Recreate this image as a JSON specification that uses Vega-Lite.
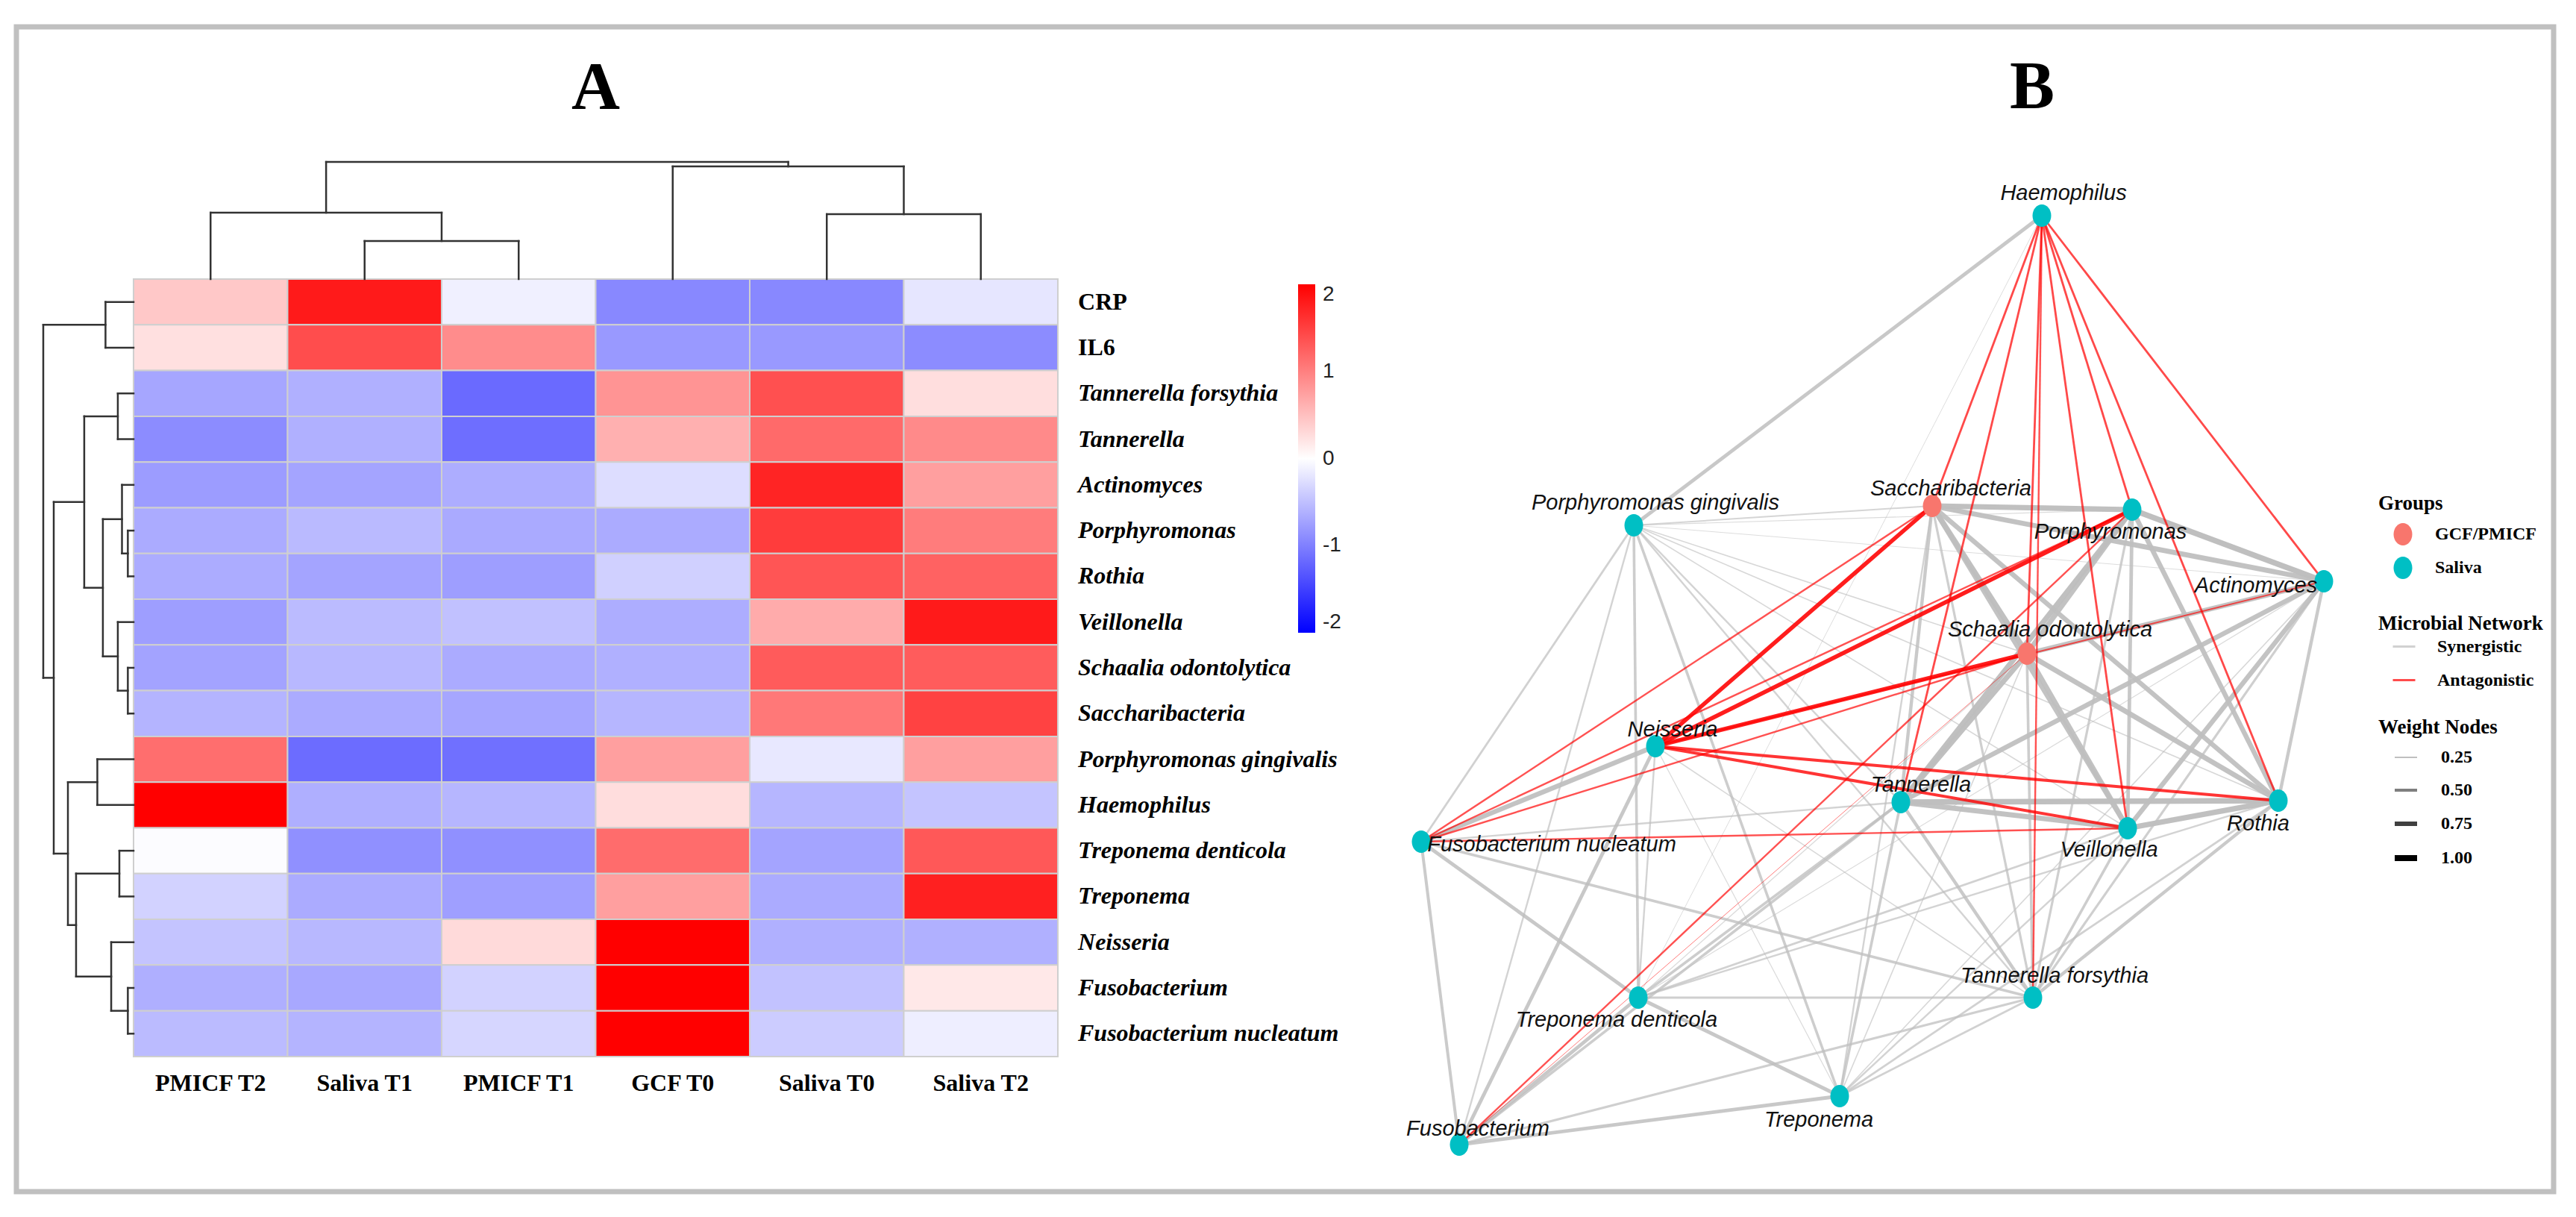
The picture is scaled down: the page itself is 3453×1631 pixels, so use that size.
{
  "$schema": "https://vega.github.io/schema/vega-lite/v6.json",
  "width": 3453,
  "height": 1631,
  "autosize": {"type": "fit", "contains": "padding"},
  "padding": {"left": 22, "top": 36, "right": 30, "bottom": 34},
  "background": "white",
  "config": {
    "view": {"stroke": "#c0c0c0", "strokeWidth": 7},
    "legend": {"labelLimit": 600, "titleLimit": 600}
  },
  "datasets": {
    "samples": [
      {"sample": "PMICF T2", "pos": 1},
      {"sample": "Saliva T1", "pos": 2},
      {"sample": "PMICF T1", "pos": 3},
      {"sample": "GCF T0", "pos": 4},
      {"sample": "Saliva T0", "pos": 5},
      {"sample": "Saliva T2", "pos": 6}
    ],
    "taxa": [
      {"taxon": "CRP", "pos": 1, "kind": "marker"},
      {"taxon": "IL6", "pos": 2, "kind": "marker"},
      {"taxon": "Tannerella forsythia", "pos": 3, "kind": "taxon"},
      {"taxon": "Tannerella", "pos": 4, "kind": "taxon"},
      {"taxon": "Actinomyces", "pos": 5, "kind": "taxon"},
      {"taxon": "Porphyromonas", "pos": 6, "kind": "taxon"},
      {"taxon": "Rothia", "pos": 7, "kind": "taxon"},
      {"taxon": "Veillonella", "pos": 8, "kind": "taxon"},
      {"taxon": "Schaalia odontolytica", "pos": 9, "kind": "taxon"},
      {"taxon": "Saccharibacteria", "pos": 10, "kind": "taxon"},
      {"taxon": "Porphyromonas gingivalis", "pos": 11, "kind": "taxon"},
      {"taxon": "Haemophilus", "pos": 12, "kind": "taxon"},
      {"taxon": "Treponema denticola", "pos": 13, "kind": "taxon"},
      {"taxon": "Treponema", "pos": 14, "kind": "taxon"},
      {"taxon": "Neisseria", "pos": 15, "kind": "taxon"},
      {"taxon": "Fusobacterium", "pos": 16, "kind": "taxon"},
      {"taxon": "Fusobacterium nucleatum", "pos": 17, "kind": "taxon"}
    ],
    "heat": [
      {"taxon": "CRP", "sample": "PMICF T2", "z": 0.43}, {"taxon": "CRP", "sample": "Saliva T1", "z": 1.8}, {"taxon": "CRP", "sample": "PMICF T1", "z": -0.12}, {"taxon": "CRP", "sample": "GCF T0", "z": -0.93}, {"taxon": "CRP", "sample": "Saliva T0", "z": -0.93}, {"taxon": "CRP", "sample": "Saliva T2", "z": -0.2},
      {"taxon": "IL6", "sample": "PMICF T2", "z": 0.24}, {"taxon": "IL6", "sample": "Saliva T1", "z": 1.4}, {"taxon": "IL6", "sample": "PMICF T1", "z": 0.9}, {"taxon": "IL6", "sample": "GCF T0", "z": -0.8}, {"taxon": "IL6", "sample": "Saliva T0", "z": -0.8}, {"taxon": "IL6", "sample": "Saliva T2", "z": -0.9},
      {"taxon": "Tannerella forsythia", "sample": "PMICF T2", "z": -0.7}, {"taxon": "Tannerella forsythia", "sample": "Saliva T1", "z": -0.62}, {"taxon": "Tannerella forsythia", "sample": "PMICF T1", "z": -1.17}, {"taxon": "Tannerella forsythia", "sample": "GCF T0", "z": 0.84}, {"taxon": "Tannerella forsythia", "sample": "Saliva T0", "z": 1.37}, {"taxon": "Tannerella forsythia", "sample": "Saliva T2", "z": 0.26},
      {"taxon": "Tannerella", "sample": "PMICF T2", "z": -0.9}, {"taxon": "Tannerella", "sample": "Saliva T1", "z": -0.62}, {"taxon": "Tannerella", "sample": "PMICF T1", "z": -1.14}, {"taxon": "Tannerella", "sample": "GCF T0", "z": 0.62}, {"taxon": "Tannerella", "sample": "Saliva T0", "z": 1.17}, {"taxon": "Tannerella", "sample": "Saliva T2", "z": 0.92},
      {"taxon": "Actinomyces", "sample": "PMICF T2", "z": -0.78}, {"taxon": "Actinomyces", "sample": "Saliva T1", "z": -0.71}, {"taxon": "Actinomyces", "sample": "PMICF T1", "z": -0.64}, {"taxon": "Actinomyces", "sample": "GCF T0", "z": -0.27}, {"taxon": "Actinomyces", "sample": "Saliva T0", "z": 1.72}, {"taxon": "Actinomyces", "sample": "Saliva T2", "z": 0.75},
      {"taxon": "Porphyromonas", "sample": "PMICF T2", "z": -0.66}, {"taxon": "Porphyromonas", "sample": "Saliva T1", "z": -0.54}, {"taxon": "Porphyromonas", "sample": "PMICF T1", "z": -0.67}, {"taxon": "Porphyromonas", "sample": "GCF T0", "z": -0.66}, {"taxon": "Porphyromonas", "sample": "Saliva T0", "z": 1.53}, {"taxon": "Porphyromonas", "sample": "Saliva T2", "z": 1.03},
      {"taxon": "Rothia", "sample": "PMICF T2", "z": -0.65}, {"taxon": "Rothia", "sample": "Saliva T1", "z": -0.71}, {"taxon": "Rothia", "sample": "PMICF T1", "z": -0.76}, {"taxon": "Rothia", "sample": "GCF T0", "z": -0.37}, {"taxon": "Rothia", "sample": "Saliva T0", "z": 1.33}, {"taxon": "Rothia", "sample": "Saliva T2", "z": 1.23},
      {"taxon": "Veillonella", "sample": "PMICF T2", "z": -0.76}, {"taxon": "Veillonella", "sample": "Saliva T1", "z": -0.53}, {"taxon": "Veillonella", "sample": "PMICF T1", "z": -0.49}, {"taxon": "Veillonella", "sample": "GCF T0", "z": -0.64}, {"taxon": "Veillonella", "sample": "Saliva T0", "z": 0.66}, {"taxon": "Veillonella", "sample": "Saliva T2", "z": 1.8},
      {"taxon": "Schaalia odontolytica", "sample": "PMICF T2", "z": -0.72}, {"taxon": "Schaalia odontolytica", "sample": "Saliva T1", "z": -0.56}, {"taxon": "Schaalia odontolytica", "sample": "PMICF T1", "z": -0.66}, {"taxon": "Schaalia odontolytica", "sample": "GCF T0", "z": -0.62}, {"taxon": "Schaalia odontolytica", "sample": "Saliva T0", "z": 1.29}, {"taxon": "Schaalia odontolytica", "sample": "Saliva T2", "z": 1.28},
      {"taxon": "Saccharibacteria", "sample": "PMICF T2", "z": -0.59}, {"taxon": "Saccharibacteria", "sample": "Saliva T1", "z": -0.66}, {"taxon": "Saccharibacteria", "sample": "PMICF T1", "z": -0.7}, {"taxon": "Saccharibacteria", "sample": "GCF T0", "z": -0.57}, {"taxon": "Saccharibacteria", "sample": "Saliva T0", "z": 1.06}, {"taxon": "Saccharibacteria", "sample": "Saliva T2", "z": 1.48},
      {"taxon": "Porphyromonas gingivalis", "sample": "PMICF T2", "z": 1.14}, {"taxon": "Porphyromonas gingivalis", "sample": "Saliva T1", "z": -1.15}, {"taxon": "Porphyromonas gingivalis", "sample": "PMICF T1", "z": -1.12}, {"taxon": "Porphyromonas gingivalis", "sample": "GCF T0", "z": 0.75}, {"taxon": "Porphyromonas gingivalis", "sample": "Saliva T0", "z": -0.18}, {"taxon": "Porphyromonas gingivalis", "sample": "Saliva T2", "z": 0.75},
      {"taxon": "Haemophilus", "sample": "PMICF T2", "z": 2.0}, {"taxon": "Haemophilus", "sample": "Saliva T1", "z": -0.63}, {"taxon": "Haemophilus", "sample": "PMICF T1", "z": -0.57}, {"taxon": "Haemophilus", "sample": "GCF T0", "z": 0.27}, {"taxon": "Haemophilus", "sample": "Saliva T0", "z": -0.57}, {"taxon": "Haemophilus", "sample": "Saliva T2", "z": -0.46},
      {"taxon": "Treponema denticola", "sample": "PMICF T2", "z": -0.02}, {"taxon": "Treponema denticola", "sample": "Saliva T1", "z": -0.87}, {"taxon": "Treponema denticola", "sample": "PMICF T1", "z": -0.87}, {"taxon": "Treponema denticola", "sample": "GCF T0", "z": 1.15}, {"taxon": "Treponema denticola", "sample": "Saliva T0", "z": -0.71}, {"taxon": "Treponema denticola", "sample": "Saliva T2", "z": 1.31},
      {"taxon": "Treponema", "sample": "PMICF T2", "z": -0.35}, {"taxon": "Treponema", "sample": "Saliva T1", "z": -0.66}, {"taxon": "Treponema", "sample": "PMICF T1", "z": -0.75}, {"taxon": "Treponema", "sample": "GCF T0", "z": 0.75}, {"taxon": "Treponema", "sample": "Saliva T0", "z": -0.66}, {"taxon": "Treponema", "sample": "Saliva T2", "z": 1.75},
      {"taxon": "Neisseria", "sample": "PMICF T2", "z": -0.46}, {"taxon": "Neisseria", "sample": "Saliva T1", "z": -0.56}, {"taxon": "Neisseria", "sample": "PMICF T1", "z": 0.29}, {"taxon": "Neisseria", "sample": "GCF T0", "z": 2.0}, {"taxon": "Neisseria", "sample": "Saliva T0", "z": -0.62}, {"taxon": "Neisseria", "sample": "Saliva T2", "z": -0.62},
      {"taxon": "Fusobacterium", "sample": "PMICF T2", "z": -0.63}, {"taxon": "Fusobacterium", "sample": "Saliva T1", "z": -0.68}, {"taxon": "Fusobacterium", "sample": "PMICF T1", "z": -0.35}, {"taxon": "Fusobacterium", "sample": "GCF T0", "z": 2.0}, {"taxon": "Fusobacterium", "sample": "Saliva T0", "z": -0.48}, {"taxon": "Fusobacterium", "sample": "Saliva T2", "z": 0.18},
      {"taxon": "Fusobacterium nucleatum", "sample": "PMICF T2", "z": -0.53}, {"taxon": "Fusobacterium nucleatum", "sample": "Saliva T1", "z": -0.59}, {"taxon": "Fusobacterium nucleatum", "sample": "PMICF T1", "z": -0.32}, {"taxon": "Fusobacterium nucleatum", "sample": "GCF T0", "z": 2.0}, {"taxon": "Fusobacterium nucleatum", "sample": "Saliva T0", "z": -0.4}, {"taxon": "Fusobacterium nucleatum", "sample": "Saliva T2", "z": -0.13}
    ],
    "dendro": [
      {"x": 2, "x2": 3, "y": -0.332, "y2": -0.332}, {"x": 2, "x2": 2, "y": -0.332, "y2": 0.5}, {"x": 3, "x2": 3, "y": -0.332, "y2": 0.5},
      {"x": 1, "x2": 2.5, "y": -0.952, "y2": -0.952}, {"x": 1, "x2": 1, "y": -0.952, "y2": 0.5}, {"x": 2.5, "x2": 2.5, "y": -0.952, "y2": -0.332},
      {"x": 5, "x2": 6, "y": -0.919, "y2": -0.919}, {"x": 5, "x2": 5, "y": -0.919, "y2": 0.5}, {"x": 6, "x2": 6, "y": -0.919, "y2": 0.5},
      {"x": 4, "x2": 5.5, "y": -1.963, "y2": -1.963}, {"x": 4, "x2": 4, "y": -1.963, "y2": 0.5}, {"x": 5.5, "x2": 5.5, "y": -1.963, "y2": -0.919},
      {"x": 1.75, "x2": 4.75, "y": -2.061, "y2": -2.061}, {"x": 1.75, "x2": 1.75, "y": -2.061, "y2": -0.952}, {"x": 4.75, "x2": 4.75, "y": -2.061, "y2": -1.963},
      {"x": 0.318, "x2": 0.318, "y": 1, "y2": 2}, {"x": 0.318, "x2": 0.5, "y": 1, "y2": 1}, {"x": 0.318, "x2": 0.5, "y": 2, "y2": 2},
      {"x": 0.398, "x2": 0.398, "y": 3, "y2": 4}, {"x": 0.398, "x2": 0.5, "y": 3, "y2": 3}, {"x": 0.398, "x2": 0.5, "y": 4, "y2": 4},
      {"x": 0.463, "x2": 0.463, "y": 6, "y2": 7}, {"x": 0.463, "x2": 0.5, "y": 6, "y2": 6}, {"x": 0.463, "x2": 0.5, "y": 7, "y2": 7},
      {"x": 0.425, "x2": 0.425, "y": 5, "y2": 6.5}, {"x": 0.425, "x2": 0.5, "y": 5, "y2": 5}, {"x": 0.425, "x2": 0.463, "y": 6.5, "y2": 6.5},
      {"x": 0.463, "x2": 0.463, "y": 9, "y2": 10}, {"x": 0.463, "x2": 0.5, "y": 9, "y2": 9}, {"x": 0.463, "x2": 0.5, "y": 10, "y2": 10},
      {"x": 0.398, "x2": 0.398, "y": 8, "y2": 9.5}, {"x": 0.398, "x2": 0.5, "y": 8, "y2": 8}, {"x": 0.398, "x2": 0.463, "y": 9.5, "y2": 9.5},
      {"x": 0.301, "x2": 0.301, "y": 5.75, "y2": 8.75}, {"x": 0.301, "x2": 0.425, "y": 5.75, "y2": 5.75}, {"x": 0.301, "x2": 0.398, "y": 8.75, "y2": 8.75},
      {"x": 0.18, "x2": 0.18, "y": 3.5, "y2": 7.25}, {"x": 0.18, "x2": 0.398, "y": 3.5, "y2": 3.5}, {"x": 0.18, "x2": 0.301, "y": 7.25, "y2": 7.25},
      {"x": 0.265, "x2": 0.265, "y": 11, "y2": 12}, {"x": 0.265, "x2": 0.5, "y": 11, "y2": 11}, {"x": 0.265, "x2": 0.5, "y": 12, "y2": 12},
      {"x": 0.408, "x2": 0.408, "y": 13, "y2": 14}, {"x": 0.408, "x2": 0.5, "y": 13, "y2": 13}, {"x": 0.408, "x2": 0.5, "y": 14, "y2": 14},
      {"x": 0.463, "x2": 0.463, "y": 16, "y2": 17}, {"x": 0.463, "x2": 0.5, "y": 16, "y2": 16}, {"x": 0.463, "x2": 0.5, "y": 17, "y2": 17},
      {"x": 0.355, "x2": 0.355, "y": 15, "y2": 16.5}, {"x": 0.355, "x2": 0.5, "y": 15, "y2": 15}, {"x": 0.355, "x2": 0.463, "y": 16.5, "y2": 16.5},
      {"x": 0.127, "x2": 0.127, "y": 13.5, "y2": 15.75}, {"x": 0.127, "x2": 0.408, "y": 13.5, "y2": 13.5}, {"x": 0.127, "x2": 0.355, "y": 15.75, "y2": 15.75},
      {"x": 0.074, "x2": 0.074, "y": 11.5, "y2": 14.625}, {"x": 0.074, "x2": 0.265, "y": 11.5, "y2": 11.5}, {"x": 0.074, "x2": 0.127, "y": 14.625, "y2": 14.625},
      {"x": -0.018, "x2": -0.018, "y": 5.375, "y2": 13.0625}, {"x": -0.018, "x2": 0.18, "y": 5.375, "y2": 5.375}, {"x": -0.018, "x2": 0.074, "y": 13.0625, "y2": 13.0625},
      {"x": -0.086, "x2": -0.086, "y": 1.5, "y2": 9.21875}, {"x": -0.086, "x2": 0.318, "y": 1.5, "y2": 1.5}, {"x": -0.086, "x2": -0.018, "y": 9.21875, "y2": 9.21875}
    ],
    "nodes": [
      {"id": "Haem", "name": "Haemophilus", "group": "Saliva", "u": 8.37, "v": 0.09, "lu": 8.66, "lv": -0.12},
      {"id": "Sacch", "name": "Saccharibacteria", "group": "GCF/PMICF", "u": 6.90, "v": 3.98, "lu": 7.15, "lv": 3.84},
      {"id": "Porph", "name": "Porphyromonas", "group": "Saliva", "u": 9.58, "v": 4.03, "lu": 9.29, "lv": 4.42},
      {"id": "Act", "name": "Actinomyces", "group": "Saliva", "u": 12.15, "v": 4.99, "lu": 11.24, "lv": 5.14},
      {"id": "Sch", "name": "Schaalia odontolytica", "group": "GCF/PMICF", "u": 8.17, "v": 5.96, "lu": 8.48, "lv": 5.73},
      {"id": "Tan", "name": "Tannerella", "group": "Saliva", "u": 6.48, "v": 7.95, "lu": 6.75, "lv": 7.81},
      {"id": "Vei", "name": "Veillonella", "group": "Saliva", "u": 9.52, "v": 8.30, "lu": 9.27, "lv": 8.68},
      {"id": "Rot", "name": "Rothia", "group": "Saliva", "u": 11.54, "v": 7.93, "lu": 11.27, "lv": 8.33},
      {"id": "Pg", "name": "Porphyromonas gingivalis", "group": "Saliva", "u": 2.90, "v": 4.24, "lu": 3.19, "lv": 4.03},
      {"id": "Nei", "name": "Neisseria", "group": "Saliva", "u": 3.19, "v": 7.20, "lu": 3.42, "lv": 7.07},
      {"id": "Fn", "name": "Fusobacterium nucleatum", "group": "Saliva", "u": 0.05, "v": 8.48, "lu": 1.80, "lv": 8.61},
      {"id": "Td", "name": "Treponema denticola", "group": "Saliva", "u": 2.96, "v": 10.57, "lu": 2.67, "lv": 10.96},
      {"id": "Fus", "name": "Fusobacterium", "group": "Saliva", "u": 0.56, "v": 12.54, "lu": 0.81, "lv": 12.42},
      {"id": "Tre", "name": "Treponema", "group": "Saliva", "u": 5.66, "v": 11.89, "lu": 5.38, "lv": 12.30},
      {"id": "Tf", "name": "Tannerella forsythia", "group": "Saliva", "u": 8.25, "v": 10.57, "lu": 8.54, "lv": 10.37}
    ],
    "edges": [
      {"a": "Haem", "b": "Td", "type": "Synergistic", "w": 0.12},
      {"a": "Pg", "b": "Act", "type": "Synergistic", "w": 0.12},
      {"a": "Pg", "b": "Porph", "type": "Synergistic", "w": 0.15},
      {"a": "Nei", "b": "Tre", "type": "Synergistic", "w": 0.15},
      {"a": "Td", "b": "Sch", "type": "Synergistic", "w": 0.15},
      {"a": "Td", "b": "Act", "type": "Synergistic", "w": 0.15},
      {"a": "Pg", "b": "Sch", "type": "Synergistic", "w": 0.2},
      {"a": "Pg", "b": "Rot", "type": "Synergistic", "w": 0.2},
      {"a": "Pg", "b": "Vei", "type": "Synergistic", "w": 0.2},
      {"a": "Nei", "b": "Tf", "type": "Synergistic", "w": 0.2},
      {"a": "Tre", "b": "Sch", "type": "Synergistic", "w": 0.2},
      {"a": "Tre", "b": "Act", "type": "Synergistic", "w": 0.2},
      {"a": "Pg", "b": "Sacch", "type": "Synergistic", "w": 0.25},
      {"a": "Pg", "b": "Tan", "type": "Synergistic", "w": 0.3},
      {"a": "Pg", "b": "Tf", "type": "Synergistic", "w": 0.3},
      {"a": "Pg", "b": "Fus", "type": "Synergistic", "w": 0.3},
      {"a": "Nei", "b": "Td", "type": "Synergistic", "w": 0.3},
      {"a": "Fn", "b": "Tan", "type": "Synergistic", "w": 0.3},
      {"a": "Td", "b": "Rot", "type": "Synergistic", "w": 0.3},
      {"a": "Tre", "b": "Sacch", "type": "Synergistic", "w": 0.3},
      {"a": "Tre", "b": "Vei", "type": "Synergistic", "w": 0.3},
      {"a": "Pg", "b": "Fn", "type": "Synergistic", "w": 0.35},
      {"a": "Td", "b": "Vei", "type": "Synergistic", "w": 0.35},
      {"a": "Tre", "b": "Rot", "type": "Synergistic", "w": 0.35},
      {"a": "Tre", "b": "Tf", "type": "Synergistic", "w": 0.35},
      {"a": "Fus", "b": "Tf", "type": "Synergistic", "w": 0.4},
      {"a": "Td", "b": "Tf", "type": "Synergistic", "w": 0.4},
      {"a": "Tf", "b": "Porph", "type": "Synergistic", "w": 0.4},
      {"a": "Tf", "b": "Act", "type": "Synergistic", "w": 0.4},
      {"a": "Tf", "b": "Sacch", "type": "Synergistic", "w": 0.4},
      {"a": "Pg", "b": "Td", "type": "Synergistic", "w": 0.45},
      {"a": "Pg", "b": "Tre", "type": "Synergistic", "w": 0.45},
      {"a": "Fn", "b": "Tf", "type": "Synergistic", "w": 0.45},
      {"a": "Fus", "b": "Tan", "type": "Synergistic", "w": 0.45},
      {"a": "Td", "b": "Tan", "type": "Synergistic", "w": 0.45},
      {"a": "Tre", "b": "Tan", "type": "Synergistic", "w": 0.45},
      {"a": "Tf", "b": "Sch", "type": "Synergistic", "w": 0.45},
      {"a": "Tf", "b": "Vei", "type": "Synergistic", "w": 0.45},
      {"a": "Fn", "b": "Fus", "type": "Synergistic", "w": 0.5},
      {"a": "Tf", "b": "Tan", "type": "Synergistic", "w": 0.55},
      {"a": "Tf", "b": "Rot", "type": "Synergistic", "w": 0.55},
      {"a": "Tan", "b": "Sacch", "type": "Synergistic", "w": 0.55},
      {"a": "Act", "b": "Rot", "type": "Synergistic", "w": 0.55},
      {"a": "Haem", "b": "Pg", "type": "Synergistic", "w": 0.6},
      {"a": "Nei", "b": "Fus", "type": "Synergistic", "w": 0.6},
      {"a": "Fn", "b": "Td", "type": "Synergistic", "w": 0.6},
      {"a": "Fus", "b": "Td", "type": "Synergistic", "w": 0.6},
      {"a": "Fus", "b": "Tre", "type": "Synergistic", "w": 0.6},
      {"a": "Td", "b": "Tre", "type": "Synergistic", "w": 0.6},
      {"a": "Porph", "b": "Vei", "type": "Synergistic", "w": 0.6},
      {"a": "Nei", "b": "Fn", "type": "Synergistic", "w": 0.8},
      {"a": "Tan", "b": "Act", "type": "Synergistic", "w": 0.8},
      {"a": "Sacch", "b": "Vei", "type": "Synergistic", "w": 0.8},
      {"a": "Sacch", "b": "Rot", "type": "Synergistic", "w": 0.8},
      {"a": "Porph", "b": "Rot", "type": "Synergistic", "w": 0.8},
      {"a": "Act", "b": "Sch", "type": "Synergistic", "w": 0.8},
      {"a": "Act", "b": "Vei", "type": "Synergistic", "w": 0.8},
      {"a": "Tan", "b": "Vei", "type": "Synergistic", "w": 0.85},
      {"a": "Sacch", "b": "Act", "type": "Synergistic", "w": 0.85},
      {"a": "Porph", "b": "Sch", "type": "Synergistic", "w": 0.85},
      {"a": "Sch", "b": "Rot", "type": "Synergistic", "w": 0.85},
      {"a": "Sch", "b": "Vei", "type": "Synergistic", "w": 0.85},
      {"a": "Tan", "b": "Sch", "type": "Synergistic", "w": 0.9},
      {"a": "Tan", "b": "Porph", "type": "Synergistic", "w": 0.9},
      {"a": "Sacch", "b": "Porph", "type": "Synergistic", "w": 0.9},
      {"a": "Sacch", "b": "Sch", "type": "Synergistic", "w": 0.9},
      {"a": "Rot", "b": "Vei", "type": "Synergistic", "w": 0.9},
      {"a": "Tan", "b": "Rot", "type": "Synergistic", "w": 0.95},
      {"a": "Porph", "b": "Act", "type": "Synergistic", "w": 0.95},
      {"a": "Fus", "b": "Sch", "type": "Antagonistic", "w": 0.12},
      {"a": "Nei", "b": "Act", "type": "Antagonistic", "w": 0.25},
      {"a": "Haem", "b": "Tf", "type": "Antagonistic", "w": 0.3},
      {"a": "Fn", "b": "Sacch", "type": "Antagonistic", "w": 0.3},
      {"a": "Fn", "b": "Porph", "type": "Antagonistic", "w": 0.3},
      {"a": "Fn", "b": "Sch", "type": "Antagonistic", "w": 0.3},
      {"a": "Fn", "b": "Vei", "type": "Antagonistic", "w": 0.3},
      {"a": "Fus", "b": "Porph", "type": "Antagonistic", "w": 0.3},
      {"a": "Haem", "b": "Sacch", "type": "Antagonistic", "w": 0.35},
      {"a": "Haem", "b": "Tan", "type": "Antagonistic", "w": 0.35},
      {"a": "Haem", "b": "Sch", "type": "Antagonistic", "w": 0.35},
      {"a": "Haem", "b": "Vei", "type": "Antagonistic", "w": 0.35},
      {"a": "Haem", "b": "Porph", "type": "Antagonistic", "w": 0.35},
      {"a": "Haem", "b": "Rot", "type": "Antagonistic", "w": 0.35},
      {"a": "Haem", "b": "Act", "type": "Antagonistic", "w": 0.35},
      {"a": "Nei", "b": "Rot", "type": "Antagonistic", "w": 0.5},
      {"a": "Nei", "b": "Vei", "type": "Antagonistic", "w": 0.5},
      {"a": "Nei", "b": "Sacch", "type": "Antagonistic", "w": 0.7},
      {"a": "Nei", "b": "Porph", "type": "Antagonistic", "w": 0.7},
      {"a": "Nei", "b": "Sch", "type": "Antagonistic", "w": 0.7}
    ]
  },
  "resolve": {"scale": {"x": "independent", "y": "independent"}},
  "layer": [
    {
      "layer": [
        {
          "data": {"name": "heat"},
          "transform": [
            {"lookup": "sample", "from": {"data": {"name": "samples"}, "key": "sample", "fields": ["pos"]}, "as": ["cx"]},
            {"lookup": "taxon", "from": {"data": {"name": "taxa"}, "key": "taxon", "fields": ["pos"]}, "as": ["ry"]}
          ],
          "mark": {"type": "point", "shape": "M-1,-0.2968H1V0.2968H-1Z", "size": 42642, "filled": true, "opacity": 1, "stroke": "#cfcfcf", "strokeWidth": 2},
          "encoding": {
            "x": {"field": "cx", "type": "quantitative", "scale": {"domain": [-0.2603, 16.2097], "nice": false, "zero": false}, "axis": null},
            "y": {"field": "ry", "type": "quantitative", "scale": {"domain": [-5.0148, 20.454], "nice": false, "zero": false, "reverse": true}, "axis": null},
            "color": {
              "field": "z", "type": "quantitative",
              "scale": {"domain": [-2, 0, 2], "range": ["#0000FF", "#FFFFFF", "#FF0000"], "interpolate": "rgb", "clamp": true},
              "legend": {
                "title": null, "orient": "none", "legendX": 1718, "legendY": 345, "direction": "vertical",
                "gradientLength": 467, "gradientThickness": 23, "gradientStrokeWidth": 0,
                "values": [-2, -1, 0, 1, 2], "labelExpr": "'' + datum.value",
                "labelFont": "Liberation Sans", "labelFontSize": 28, "labelColor": "#222", "labelOffset": 10, "labelOverlap": false, "padding": 0
              }
            }
          }
        },
        {
          "data": {"name": "dendro"},
          "mark": {"type": "rule", "color": "#333333", "strokeWidth": 2.5, "strokeCap": "square"},
          "encoding": {
            "x": {"field": "x", "type": "quantitative", "scale": {"domain": [-0.2603, 16.2097], "nice": false, "zero": false}, "axis": null},
            "x2": {"field": "x2"},
            "y": {"field": "y", "type": "quantitative", "scale": {"domain": [-5.0148, 20.454], "nice": false, "zero": false, "reverse": true}, "axis": null},
            "y2": {"field": "y2"}
          }
        },
        {
          "data": {"name": "taxa"},
          "transform": [{"filter": "datum.kind == 'marker'"}],
          "mark": {"type": "text", "font": "Liberation Serif", "fontWeight": "bold", "fontSize": 32, "align": "left", "baseline": "middle", "color": "#000"},
          "encoding": {
            "x": {"datum": 6.631, "type": "quantitative", "scale": {"domain": [-0.2603, 16.2097], "nice": false, "zero": false}, "axis": null},
            "y": {"field": "pos", "type": "quantitative", "scale": {"domain": [-5.0148, 20.454], "nice": false, "zero": false, "reverse": true}, "axis": null},
            "text": {"field": "taxon"}
          }
        },
        {
          "data": {"name": "taxa"},
          "transform": [{"filter": "datum.kind == 'taxon'"}],
          "mark": {"type": "text", "font": "Liberation Serif", "fontWeight": "bold", "fontStyle": "italic", "fontSize": 32, "align": "left", "baseline": "middle", "color": "#000"},
          "encoding": {
            "x": {"datum": 6.631, "type": "quantitative", "scale": {"domain": [-0.2603, 16.2097], "nice": false, "zero": false}, "axis": null},
            "y": {"field": "pos", "type": "quantitative", "scale": {"domain": [-5.0148, 20.454], "nice": false, "zero": false, "reverse": true}, "axis": null},
            "text": {"field": "taxon"}
          }
        },
        {
          "data": {"name": "samples"},
          "mark": {"type": "text", "font": "Liberation Serif", "fontWeight": "bold", "fontSize": 32, "align": "center", "baseline": "middle", "color": "#000"},
          "encoding": {
            "x": {"field": "pos", "type": "quantitative", "scale": {"domain": [-0.2603, 16.2097], "nice": false, "zero": false}, "axis": null},
            "y": {"datum": 18.089, "type": "quantitative", "scale": {"domain": [-5.0148, 20.454], "nice": false, "zero": false, "reverse": true}, "axis": null},
            "text": {"field": "sample"}
          }
        },
        {
          "data": {"values": [{"panel": "A"}]},
          "mark": {"type": "text", "font": "Liberation Serif", "fontWeight": "bold", "fontSize": 90, "align": "center", "baseline": "middle", "color": "#000"},
          "encoding": {
            "x": {"datum": 3.5, "type": "quantitative", "scale": {"domain": [-0.2603, 16.2097], "nice": false, "zero": false}, "axis": null},
            "y": {"datum": -3.661, "type": "quantitative", "scale": {"domain": [-5.0148, 20.454], "nice": false, "zero": false, "reverse": true}, "axis": null},
            "text": {"field": "panel"}
          }
        }
      ]
    },
    {
      "layer": [
        {
          "data": {"name": "edges"},
          "transform": [
            {"lookup": "a", "from": {"data": {"name": "nodes"}, "key": "id", "fields": ["u", "v"]}, "as": ["ua", "va"]},
            {"lookup": "b", "from": {"data": {"name": "nodes"}, "key": "id", "fields": ["u", "v"]}, "as": ["ub", "vb"]}
          ],
          "mark": {"type": "rule", "strokeCap": "butt"},
          "encoding": {
            "x": {"field": "ua", "type": "quantitative", "scale": {"domain": [-18.78, 15.23], "nice": false, "zero": false}, "axis": null},
            "y": {"field": "va", "type": "quantitative", "scale": {"domain": [-2.44, 13.17], "nice": false, "zero": false, "reverse": true}, "axis": null},
            "x2": {"field": "ub"},
            "y2": {"field": "vb"},
            "stroke": {
              "field": "type", "type": "nominal",
              "scale": {"domain": ["Synergistic", "Antagonistic"], "range": ["#BEBEBE", "#FF0000"]},
              "legend": {
                "title": "Microbial Network", "orient": "none", "legendX": 3166, "legendY": 787,
                "symbolType": "stroke", "symbolSize": 900, "symbolStrokeWidth": 3, "symbolOpacity": 0.7, "symbolOffset": 18,
                "titleFont": "Liberation Serif", "titleFontSize": 27, "titleFontWeight": "bold", "titleColor": "#000", "titlePadding": 0,
                "labelFont": "Liberation Serif", "labelFontSize": 24, "labelFontWeight": "bold", "labelColor": "#000", "labelOffset": 28,
                "rowPadding": 16, "padding": 0
              }
            },
            "strokeWidth": {
              "field": "w", "type": "quantitative",
              "scale": {"domain": [0, 1], "range": [0, 8]},
              "legend": {
                "title": "Weight Nodes", "orient": "none", "legendX": 3166, "legendY": 926,
                "values": [0.25, 0.5, 0.75, 1], "format": ".2f",
                "symbolType": "stroke", "symbolSize": 900, "symbolOffset": 18,
                "titleFont": "Liberation Serif", "titleFontSize": 27, "titleFontWeight": "bold", "titleColor": "#000", "titlePadding": 10,
                "labelFont": "Liberation Serif", "labelFontSize": 24, "labelFontWeight": "bold", "labelColor": "#000", "labelOffset": 28,
                "rowPadding": 15, "padding": 0,
                "encode": {"symbols": {"update": {"stroke": {"value": "#000000"}, "strokeOpacity": {"signal": "datum.value"}}}}
              }
            },
            "strokeOpacity": {
              "field": "w", "type": "quantitative",
              "scale": {"type": "pow", "exponent": 0.5, "domain": [0, 1], "range": [0.3, 1]},
              "legend": null
            }
          }
        },
        {
          "data": {"name": "nodes"},
          "mark": {"type": "point", "shape": "M0,-1A0.833,1,0,1,1,0,1A0.833,1,0,1,1,0,-1Z", "size": 900, "filled": true, "opacity": 1, "strokeWidth": 0},
          "encoding": {
            "x": {"field": "u", "type": "quantitative", "scale": {"domain": [-18.78, 15.23], "nice": false, "zero": false}, "axis": null},
            "y": {"field": "v", "type": "quantitative", "scale": {"domain": [-2.44, 13.17], "nice": false, "zero": false, "reverse": true}, "axis": null},
            "fill": {
              "field": "group", "type": "nominal",
              "scale": {"domain": ["GCF/PMICF", "Saliva"], "range": ["#F8766D", "#00BFC4"]},
              "legend": {
                "title": "Groups", "orient": "none", "legendX": 3166, "legendY": 626,
                "symbolType": "M0,-1A0.833,1,0,1,1,0,1A0.833,1,0,1,1,0,-1Z", "symbolSize": 900, "symbolStrokeWidth": 0, "symbolOffset": 18,
                "titleFont": "Liberation Serif", "titleFontSize": 27, "titleFontWeight": "bold", "titleColor": "#000", "titlePadding": 12,
                "labelFont": "Liberation Serif", "labelFontSize": 24, "labelFontWeight": "bold", "labelColor": "#000", "labelOffset": 28,
                "rowPadding": 15, "padding": 0
              }
            }
          }
        },
        {
          "data": {"name": "nodes"},
          "mark": {"type": "text", "font": "Liberation Sans", "fontStyle": "italic", "fontSize": 29, "align": "center", "baseline": "alphabetic", "color": "#111"},
          "encoding": {
            "x": {"field": "lu", "type": "quantitative", "scale": {"domain": [-18.78, 15.23], "nice": false, "zero": false}, "axis": null},
            "y": {"field": "lv", "type": "quantitative", "scale": {"domain": [-2.44, 13.17], "nice": false, "zero": false, "reverse": true}, "axis": null},
            "text": {"field": "name"}
          }
        },
        {
          "data": {"values": [{"panel": "B"}]},
          "mark": {"type": "text", "font": "Liberation Serif", "fontWeight": "bold", "fontSize": 90, "align": "center", "baseline": "middle", "color": "#000"},
          "encoding": {
            "x": {"datum": 8.24, "type": "quantitative", "scale": {"domain": [-18.78, 15.23], "nice": false, "zero": false}, "axis": null},
            "y": {"datum": -1.62, "type": "quantitative", "scale": {"domain": [-2.44, 13.17], "nice": false, "zero": false, "reverse": true}, "axis": null},
            "text": {"field": "panel"}
          }
        }
      ]
    }
  ]
}
